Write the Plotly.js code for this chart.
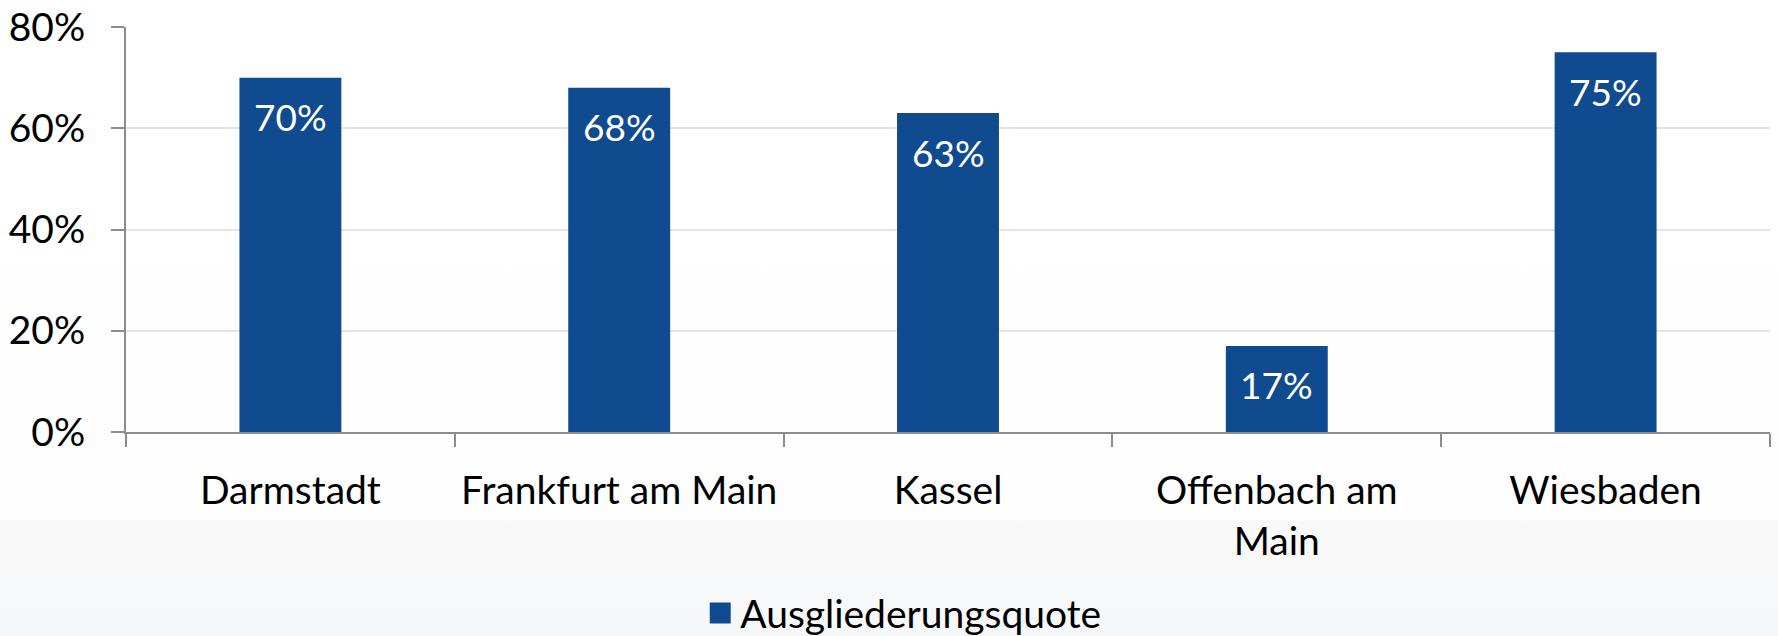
<!DOCTYPE html>
<html>
<head>
<meta charset="utf-8">
<script src="https://cdn.plot.ly/plotly-3.0.1.min.js"></script>
<style>
  html, body { margin: 0; padding: 0; }
  body { width: 1778px; height: 636px; background: linear-gradient(to bottom, #ffffff 0px, #fefefe 520px, #f9f9fa 521px, #f6f7f8 636px); }
  #chart { width: 1778px; height: 636px; }
</style>
</head>
<body>
<div id="chart"></div>
<script>
const categories = ["Darmstadt", "Frankfurt am Main", "Kassel", "Offenbach am<br>Main", "Wiesbaden"];
const values = [70, 68, 63, 17, 75];
const seriesName = "Ausgliederungsquote";
const yTickVals = [0, 20, 40, 60, 80];
const yTickText = ["0%", "20%", "40%", "60%", "80%"];

const barColor = "#114b8f";
const fontFamily = "Lato, 'Open Sans', sans-serif";

const barTrace = {
  type: "bar",
  x: categories,
  y: values,
  name: seriesName,
  marker: { color: barColor },
  width: 0.31,
  hoverinfo: "skip",
  showlegend: false
};

// legend entry (square swatch) for the bar series
const legendTrace = {
  type: "scatter",
  mode: "markers",
  x: [null],
  y: [null],
  name: seriesName,
  marker: { symbol: "square", size: 16, color: barColor, line: { width: 5, color: barColor } },
  hoverinfo: "skip",
  showlegend: true
};

const annotations = categories.map((c, i) => ({
  x: c,
  y: values[i],
  xref: "x",
  yref: "y",
  text: values[i] + "%",
  showarrow: false,
  yanchor: "middle",
  yshift: -39,
  font: { family: fontFamily, size: 37, color: "#ffffff" }
}));

const layout = {
  width: 1778,
  height: 636,
  paper_bgcolor: "rgba(0,0,0,0)",
  plot_bgcolor: "rgba(0,0,0,0)",
  margin: { l: 126, r: 8, t: 27, b: 204, autoexpand: false },
  font: { family: fontFamily, size: 39, color: "#000000" },
  bargap: 0.69,
  xaxis: {
    type: "category",
    automargin: false,
    showline: true,
    linecolor: "#8c8c8c",
    linewidth: 2,
    ticks: "outside",
    tickson: "boundaries",
    ticklen: 13,
    tickwidth: 2,
    tickcolor: "#8c8c8c",
    showgrid: false,
    zeroline: false,
    tickfont: { family: fontFamily, size: 39, color: "#000000" },
    ticklabelstandoff: 23,
    fixedrange: true
  },
  yaxis: {
    automargin: false,
    range: [0, 80],
    tickvals: yTickVals,
    ticktext: yTickText,
    showline: true,
    linecolor: "#8c8c8c",
    linewidth: 2,
    ticks: "outside",
    ticklen: 13,
    tickwidth: 2,
    tickcolor: "#8c8c8c",
    showgrid: true,
    gridcolor: "#e4e4e4",
    gridwidth: 2,
    zeroline: false,
    tickfont: { family: fontFamily, size: 39, color: "#000000" },
    ticklabelstandoff: 18,
    fixedrange: true
  },
  showlegend: true,
  legend: {
    orientation: "h",
    xref: "container",
    yref: "container",
    x: 0.508,
    xanchor: "center",
    y: 0.036,
    yanchor: "middle",
    bgcolor: "rgba(0,0,0,0)",
    itemwidth: 30,
    font: { family: fontFamily, size: 39, color: "#000000" }
  },
  annotations: annotations
};

Plotly.newPlot("chart", [barTrace, legendTrace], layout, { displayModeBar: false, staticPlot: true });
</script>
</body>
</html>
